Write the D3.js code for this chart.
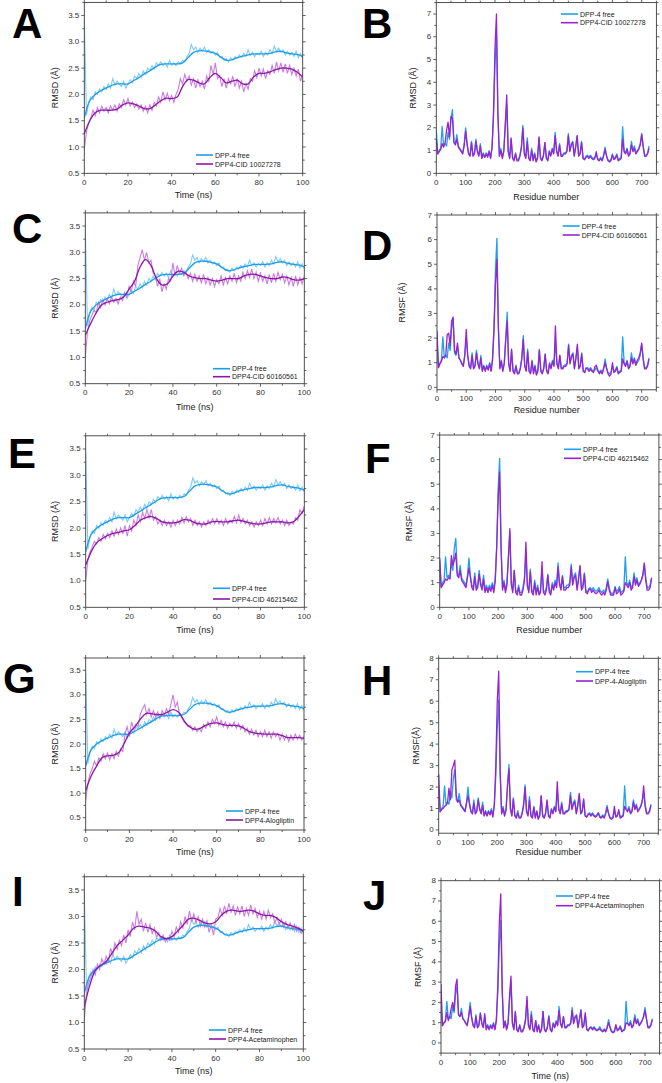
<!DOCTYPE html>
<html>
<head>
<meta charset="utf-8">
<script src="https://cdn.jsdelivr.net/npm/d3@7"></script>
<style>
  body { margin: 0; background: #fff; }
  svg { display: block; font-family: "Liberation Sans", Arial, sans-serif; }
</style>
</head>
<body>
<svg id="fig" width="662" height="1083"></svg>
<script>
// ---- time grids (ns) ----
const rawTimes = [
  0,1,2,3,4,5,6,7,8,9, 10,11,12,13,14,15,16,17,18,19,
  20,21,22,23,24,25,26,27,28,29, 30,31,32,33,34,35,36,37,38,39,
  40,41,42,43,44,45,46,47,48,49, 50,51,52,53,54,55,56,57,58,59,
  60,61,62,63,64,65,66,67,68,69, 70,71,72,73,74,75,76,77,78,79,
  80,81,82,83,84,85,86,87,88,89, 90,91,92,93,94,95,96,97,98,99, 100
];
const smoothTimes = [0,2.5,5,7.5,10,12.5,15,17.5,20,22.5,25,27.5,30,32.5,35,37.5,40,42.5,45,47.5,
  50,52.5,55,57.5,60,62.5,65,67.5,70,72.5,75,77.5,80,82.5,85,87.5,90,92.5,95,97.5,100];

// ---- RMSD, DPP-4 free ----
const freeRmsdRaw = [
  3.45,1.6,1.85,1.95,1.9,2.05,2.0,2.1,2.05,2.15,
  2.1,2.2,2.12,2.3,2.18,2.25,2.2,2.15,2.25,2.12,
  2.2,2.28,2.22,2.35,2.3,2.4,2.32,2.45,2.38,2.5,
  2.45,2.55,2.48,2.6,2.55,2.62,2.55,2.6,2.52,2.65,
  2.55,2.6,2.55,2.62,2.58,2.65,2.62,2.72,2.78,2.95,
  2.85,2.9,2.8,2.88,2.82,2.9,2.8,2.85,2.78,2.82,
  2.75,2.8,2.7,2.72,2.65,2.68,2.62,2.7,2.65,2.72,
  2.68,2.75,2.7,2.78,2.72,2.85,2.75,2.8,2.72,2.78,
  2.75,2.82,2.72,2.8,2.75,2.85,2.78,2.92,2.82,2.88,
  2.8,2.85,2.75,2.82,2.75,2.8,2.72,2.82,2.7,2.78,
  2.68
];
const freeRmsdSmooth = [1.55,1.88,2.0,2.07,2.12,2.17,2.2,2.2,2.2,2.26,2.32,2.39,2.45,2.52,2.57,2.58,2.58,2.58,2.6,2.7,
  2.8,2.83,2.83,2.81,2.78,2.71,2.65,2.66,2.7,2.73,2.75,2.77,2.77,2.77,2.78,2.81,2.82,2.79,2.77,2.76,2.72];

// ---- RMSD, complexes ----
const cid10027278RmsdRaw = [
  0.95,1.3,1.45,1.55,1.7,1.6,1.75,1.65,1.78,1.68,
  1.75,1.65,1.78,1.7,1.8,1.68,1.82,1.75,1.9,1.8,
  1.92,1.78,1.85,1.75,1.82,1.72,1.8,1.68,1.78,1.65,
  1.8,1.7,1.85,1.78,1.95,1.85,2.05,1.9,2.02,1.88,
  1.98,1.85,2.0,2.1,2.3,2.2,2.38,2.25,2.35,2.18,
  2.3,2.12,2.28,2.15,2.25,2.1,2.35,2.25,2.55,2.38,
  2.6,2.3,2.35,2.15,2.3,2.12,2.3,2.2,2.35,2.15,
  2.3,2.12,2.25,2.05,2.2,2.1,2.3,2.25,2.45,2.32,
  2.5,2.35,2.48,2.3,2.45,2.38,2.55,2.4,2.62,2.45,
  2.6,2.42,2.58,2.4,2.55,2.38,2.5,2.35,2.48,2.25,
  2.4
];
const cid10027278RmsdSmooth = [1.25,1.5,1.65,1.7,1.7,1.7,1.72,1.8,1.84,1.82,1.78,1.73,1.73,1.8,1.88,1.93,1.92,1.95,2.15,2.28,
  2.27,2.22,2.2,2.32,2.4,2.32,2.22,2.25,2.27,2.2,2.2,2.33,2.4,2.4,2.43,2.47,2.5,2.5,2.48,2.42,2.33];

const cid60160561RmsdRaw = [
  1.0,1.5,1.7,1.8,1.9,1.85,2.05,1.95,2.1,2.0,
  2.12,2.02,2.15,2.05,2.12,2.02,2.15,2.08,2.22,2.15,
  2.35,2.25,2.45,2.35,2.75,2.9,3.05,2.85,3.0,2.8,
  2.85,2.6,2.55,2.35,2.5,2.25,2.4,2.3,2.5,2.45,
  2.8,2.55,2.75,2.6,2.7,2.55,2.62,2.5,2.6,2.45,
  2.58,2.45,2.55,2.42,2.58,2.4,2.52,2.38,2.5,2.35,
  2.48,2.4,2.55,2.38,2.52,2.4,2.55,2.45,2.6,2.42,
  2.55,2.45,2.62,2.5,2.65,2.52,2.68,2.5,2.62,2.45,
  2.6,2.45,2.55,2.4,2.58,2.42,2.6,2.45,2.62,2.48,
  2.58,2.42,2.55,2.38,2.52,2.35,2.55,2.38,2.52,2.4,
  2.55
];
const cid60160561RmsdSmooth = [1.42,1.65,1.85,2.0,2.05,2.08,2.1,2.15,2.3,2.45,2.72,2.86,2.75,2.5,2.38,2.4,2.55,2.64,2.62,2.55,
  2.52,2.5,2.5,2.47,2.45,2.47,2.5,2.5,2.5,2.55,2.58,2.58,2.55,2.52,2.5,2.5,2.53,2.52,2.48,2.47,2.5];

const cid46215462RmsdRaw = [
  1.0,1.4,1.55,1.65,1.75,1.7,1.82,1.75,1.88,1.8,
  1.9,1.82,1.95,1.85,1.98,1.88,2.0,1.9,2.05,1.85,
  2.05,1.95,2.15,2.05,2.25,2.12,2.3,2.18,2.35,2.2,
  2.35,2.15,2.22,2.08,2.15,2.05,2.15,2.05,2.12,2.02,
  2.15,2.05,2.15,2.08,2.2,2.1,2.22,2.12,2.18,2.05,
  2.15,2.05,2.12,2.02,2.12,2.05,2.15,2.08,2.18,2.08,
  2.18,2.08,2.15,2.05,2.18,2.08,2.15,2.1,2.22,2.1,
  2.25,2.1,2.18,2.08,2.15,2.05,2.12,2.02,2.12,2.05,
  2.15,2.05,2.18,2.08,2.2,2.08,2.18,2.1,2.2,2.08,
  2.15,2.05,2.15,2.05,2.12,2.08,2.2,2.15,2.35,2.28,
  2.42
];
const cid46215462RmsdSmooth = [1.3,1.55,1.72,1.8,1.86,1.9,1.92,1.95,1.97,2.05,2.15,2.2,2.22,2.18,2.12,2.1,2.1,2.12,2.16,2.15,
  2.1,2.08,2.08,2.12,2.13,2.12,2.12,2.14,2.15,2.13,2.1,2.08,2.08,2.1,2.12,2.12,2.12,2.1,2.12,2.22,2.35];

const alogliptinRmsdRaw = [
  0.85,1.2,1.4,1.5,1.65,1.55,1.72,1.65,1.8,1.7,
  1.82,1.68,1.8,1.7,1.85,1.75,1.9,1.85,2.2,2.35,
  2.15,2.45,2.3,2.4,2.35,2.6,2.72,2.8,2.6,2.72,
  2.55,2.68,2.55,2.65,2.52,2.68,2.58,2.72,2.6,2.8,
  3.0,2.75,2.85,2.6,2.55,2.45,2.4,2.35,2.38,2.28,
  2.35,2.25,2.32,2.25,2.4,2.32,2.45,2.35,2.5,2.42,
  2.55,2.38,2.48,2.35,2.45,2.32,2.42,2.35,2.45,2.32,
  2.42,2.3,2.38,2.25,2.32,2.2,2.3,2.18,2.28,2.15,
  2.25,2.15,2.28,2.15,2.25,2.12,2.25,2.15,2.22,2.08,
  2.2,2.08,2.18,2.05,2.18,2.08,2.2,2.1,2.18,2.08,
  2.15
];
const alogliptinRmsdSmooth = [1.05,1.35,1.55,1.72,1.76,1.77,1.82,2.0,2.22,2.35,2.5,2.62,2.62,2.6,2.6,2.65,2.7,2.65,2.48,2.35,
  2.3,2.32,2.38,2.42,2.43,2.4,2.38,2.38,2.37,2.32,2.25,2.22,2.21,2.2,2.2,2.2,2.17,2.13,2.13,2.13,2.12];

const acetaminophenRmsdRaw = [
  1.05,1.55,1.75,1.85,2.0,1.9,2.1,2.0,2.2,2.1,
  2.25,2.15,2.4,2.28,2.5,2.38,2.55,2.45,2.65,2.5,
  2.75,2.62,2.9,2.75,3.1,2.85,2.95,2.72,2.88,2.7,
  2.85,2.68,2.78,2.6,2.7,2.55,2.65,2.52,2.6,2.55,
  2.72,2.62,2.8,2.7,2.9,2.78,3.0,2.85,3.1,2.9,
  3.05,2.88,3.0,2.82,2.95,2.8,2.92,2.7,2.85,2.65,
  2.95,2.98,3.15,3.02,3.2,3.05,3.25,3.08,3.2,3.02,
  3.18,3.05,3.2,3.0,3.15,3.02,3.22,3.05,3.15,2.98,
  3.1,2.95,3.1,2.95,3.12,2.98,3.05,2.88,2.98,2.85,
  2.95,2.8,2.9,2.78,2.88,2.75,2.85,2.72,2.8,2.68,
  2.75
];
const acetaminophenRmsdSmooth = [1.3,1.7,1.98,2.08,2.15,2.3,2.45,2.55,2.65,2.78,2.82,2.8,2.78,2.72,2.62,2.58,2.62,2.72,2.83,2.95,
  2.97,2.93,2.88,2.86,2.9,3.02,3.1,3.12,3.1,3.1,3.12,3.1,3.05,3.02,3.02,2.98,2.9,2.85,2.82,2.78,2.73];

// ---- RMSF per residue ----
const residues = [
  0,5,10,15,20,25,30,35,40,45, 50,55,60,65,70,75,80,85,90,95,
  100,105,110,115,120,125,130,135,140,145, 150,155,160,165,170,175,180,185,190,195,
  200,205,210,215,220,225,230,235,240,245, 250,255,260,265,270,275,280,285,290,295,
  300,305,310,315,320,325,330,335,340,345, 350,355,360,365,370,375,380,385,390,395,
  400,405,410,415,420,425,430,435,440,445, 450,455,460,465,470,475,480,485,490,495,
  500,505,510,515,520,525,530,535,540,545, 550,555,560,565,570,575,580,585,590,595,
  600,605,610,615,620,625,630,635,640,645, 650,655,660,665,670,675,680,685,690,695,
  700,705,710,715,720,725
];
const freeRmsf = [
  1.9,0.85,1.0,1.1,2.05,1.2,1.3,1.2,1.8,1.5,
  2.4,2.8,1.4,1.3,1.7,1.2,1.1,1.0,0.9,1.3,
  2.0,1.3,0.9,0.8,1.4,0.8,0.9,1.5,1.0,0.8,
  1.3,0.7,0.9,0.7,0.9,0.75,1.0,0.7,1.2,2.5,
  4.8,6.05,2.5,0.8,1.1,0.7,1.0,2.0,3.05,1.0,
  0.7,1.5,0.7,0.6,0.9,0.6,0.6,0.8,1.2,2.1,
  0.9,0.7,1.55,0.7,0.6,1.1,0.6,0.9,0.55,0.7,
  1.55,0.7,0.6,0.8,1.35,0.7,0.6,1.0,0.8,1.1,
  0.9,1.8,1.0,0.8,1.3,0.8,0.8,0.9,0.9,1.0,
  1.75,1.0,1.3,1.4,0.8,1.2,1.65,0.8,0.9,1.4,
  0.7,0.6,0.75,0.8,0.7,0.8,0.7,0.65,0.7,0.8,
  0.65,0.6,0.7,0.6,0.8,1.15,0.8,0.6,0.55,0.6,
  0.85,0.65,0.7,0.85,0.6,0.65,0.7,2.05,1.0,0.9,
  1.1,0.8,0.9,1.4,1.0,1.2,0.9,1.0,1.1,1.3,
  1.75,1.2,0.8,0.8,0.9,1.2
];
const cid10027278Rmsf = [
  1.5,0.85,0.95,1.05,1.3,1.15,1.35,1.9,2.25,1.6,
  2.5,2.4,1.35,1.25,1.5,1.15,1.05,0.95,0.85,1.2,
  1.85,1.25,0.85,0.75,1.35,0.75,0.85,1.4,0.95,0.75,
  1.2,0.65,0.85,0.7,0.85,0.7,0.95,0.65,1.1,2.7,
  5.5,7.0,2.6,0.75,1.0,0.65,0.95,2.2,3.45,0.95,
  0.65,1.55,0.65,0.55,0.85,0.55,0.55,0.75,1.1,2.0,
  0.85,0.65,1.4,0.65,0.55,1.0,0.55,0.85,0.5,0.65,
  1.6,0.65,0.55,0.75,1.35,0.65,0.55,0.95,0.75,1.05,
  0.85,1.65,0.95,0.75,1.25,0.75,0.75,0.85,0.85,0.95,
  1.65,0.95,1.25,1.35,0.75,1.15,1.65,0.75,0.85,1.35,
  0.65,0.6,0.7,0.75,0.65,0.75,0.65,0.6,0.65,0.95,
  0.6,0.55,0.65,0.55,0.75,1.05,0.75,0.55,0.5,0.55,
  0.8,0.6,0.65,0.8,0.55,0.6,0.65,1.5,0.95,0.85,
  1.05,0.75,0.85,1.25,0.95,1.1,0.85,0.95,1.05,1.25,
  1.7,1.15,0.75,0.75,0.85,1.1
];
const cid60160561Rmsf = [
  2.3,0.8,0.95,1.05,1.25,1.2,1.3,2.15,2.2,1.7,
  2.7,2.85,1.5,1.35,1.8,1.2,1.1,0.95,0.85,1.3,
  2.35,1.3,0.85,0.75,1.3,0.75,0.85,1.4,0.95,0.75,
  1.2,0.65,0.85,0.65,0.85,0.7,0.95,0.65,1.1,2.3,
  4.2,5.2,2.3,0.75,1.05,0.65,0.95,1.9,2.7,0.95,
  0.65,1.55,0.65,0.55,0.85,0.55,0.55,0.75,1.15,1.95,
  0.85,0.65,1.45,0.65,0.55,1.05,0.55,0.85,0.5,0.65,
  1.5,0.65,0.55,0.75,1.35,0.65,0.55,0.95,0.75,1.05,
  0.85,2.5,0.95,0.75,1.3,0.75,0.75,0.85,0.85,0.95,
  1.7,0.95,1.25,1.35,0.75,1.15,1.75,0.75,0.85,1.35,
  0.65,0.6,0.8,0.75,0.65,0.75,0.65,0.6,0.85,0.9,
  0.7,0.55,0.65,0.55,0.75,1.0,0.75,0.55,0.45,0.55,
  1.0,0.6,0.65,0.8,0.55,0.6,0.65,1.15,0.95,0.85,
  1.05,0.75,0.85,1.2,0.95,1.15,0.9,1.1,1.2,1.4,
  1.8,1.15,0.75,0.75,0.85,1.15
];
const cid46215462Rmsf = [
  2.0,0.8,0.9,1.0,1.15,1.1,1.2,1.15,2.1,1.7,
  1.9,2.2,1.3,1.2,1.5,1.1,1.0,0.9,0.8,1.2,
  1.6,1.2,0.8,0.7,1.25,0.7,0.8,1.35,0.9,0.7,
  1.15,0.6,0.8,0.6,0.8,0.65,0.9,0.6,1.05,2.4,
  4.4,5.5,2.3,0.7,1.0,0.6,0.9,2.0,3.2,0.9,
  0.6,1.5,0.6,0.5,0.8,0.5,0.5,0.7,1.1,2.65,
  0.85,0.6,1.45,0.6,0.5,1.0,0.5,0.8,0.5,0.6,
  1.85,0.6,0.5,0.7,1.3,0.6,0.5,0.9,0.7,1.0,
  0.8,1.65,0.9,0.7,1.25,0.7,0.7,0.8,0.8,0.9,
  1.65,0.9,1.2,1.3,0.7,1.1,1.7,0.7,0.8,1.35,
  0.6,0.55,0.7,0.75,0.6,0.7,0.6,0.55,0.6,0.7,
  0.55,0.5,0.6,0.5,0.7,1.05,0.7,0.5,0.5,0.5,
  0.8,0.55,0.6,0.75,0.5,0.55,0.65,1.0,0.9,0.8,
  1.0,0.7,0.8,1.25,0.9,1.1,0.85,0.95,1.1,1.3,
  1.8,1.1,0.7,0.7,0.8,1.2
];
const alogliptinRmsf = [
  2.6,0.85,0.95,1.0,1.1,1.15,1.25,1.95,1.4,2.8,
  3.0,3.25,1.6,1.3,1.4,1.15,1.05,0.95,0.85,1.25,
  1.6,1.2,0.85,0.75,1.25,0.75,0.85,1.4,0.95,0.75,
  1.15,0.65,0.85,0.65,0.85,0.7,0.9,0.6,1.15,3.0,
  6.0,7.4,2.8,0.75,1.0,0.65,0.9,2.1,2.85,0.95,
  0.65,1.45,0.65,0.55,0.8,0.55,0.55,0.75,1.15,2.0,
  0.85,0.65,1.4,0.65,0.55,1.05,0.55,0.85,0.5,0.65,
  1.6,0.65,0.55,0.75,1.4,0.65,0.55,0.95,0.75,1.05,
  0.85,2.25,0.95,0.75,1.2,0.75,0.75,0.85,0.85,0.95,
  1.6,0.95,1.2,1.3,0.75,1.1,1.7,0.75,0.85,1.45,
  0.65,0.6,0.7,0.75,0.65,0.75,0.65,0.6,0.65,0.8,
  0.6,0.55,0.65,0.55,0.75,1.05,0.75,0.55,0.5,0.55,
  1.1,0.6,0.65,0.95,0.55,0.6,0.65,1.1,0.95,0.85,
  1.0,0.75,0.85,1.3,0.95,1.15,0.85,0.95,1.1,1.35,
  2.05,1.1,0.75,0.75,0.85,1.15
];
const acetaminophenRmsf = [
  2.9,0.85,1.0,1.05,1.5,1.1,1.3,1.7,2.0,1.6,
  2.8,3.15,1.4,1.3,1.5,1.2,1.1,0.95,0.85,1.3,
  1.8,1.25,0.85,0.75,1.3,0.75,0.85,1.45,0.95,0.75,
  1.45,0.65,0.85,0.65,0.85,0.7,0.95,0.65,1.1,2.9,
  5.9,7.35,2.7,0.75,1.05,0.65,0.95,2.3,3.3,0.95,
  0.65,1.55,0.65,0.55,0.85,0.55,0.55,0.75,1.1,2.3,
  0.85,0.65,1.4,0.65,0.55,1.1,0.55,0.85,0.5,0.65,
  1.55,0.65,0.55,0.75,1.3,0.65,0.55,0.95,0.75,1.05,
  0.85,1.6,0.95,0.75,1.3,0.75,0.75,0.85,0.85,0.95,
  1.6,0.95,1.25,1.35,0.75,1.15,1.6,0.75,0.85,1.5,
  0.65,0.6,0.75,0.75,0.65,0.75,0.65,0.6,0.65,0.7,
  0.6,0.55,0.65,0.55,0.75,1.0,0.75,0.55,0.5,0.55,
  0.9,0.6,0.65,0.8,0.55,0.6,0.65,1.0,0.95,0.85,
  1.0,0.75,0.85,1.25,0.95,1.1,0.85,0.95,1.1,1.3,
  1.6,1.15,0.75,0.75,0.85,1.15
];

// ---- tick labels ----
const timeTicks = [0, 20, 40, 60, 80, 100];
const rmsdTicks = [0.5, 1.0, 1.5, 2.0, 2.5, 3.0, 3.5];
const residueTicks = [0, 100, 200, 300, 400, 500, 600, 700];
const rmsf7Ticks = [0, 1, 2, 3, 4, 5, 6, 7];
const rmsf8Ticks = [0, 1, 2, 3, 4, 5, 6, 7, 8];

const COL = {
  freeRaw: '#7FCCF4', free: '#1C9DE8',
  ligRaw: '#CB7CDF', lig: '#8C17A8',
  fluFree: '#1FA0EC', fluLig: '#9A22D2',
  axis: '#3c3c3c', text: '#333'
};

const svg = d3.select('#fig');
svg.append('rect').attr('width', 662).attr('height', 1083).attr('fill', '#fff');

let clipId = 0;

// Origin-style box: ticks point outward on all four sides, labels left/bottom only
function drawFrame(x, y, xTicks, yTicks, yFmt) {
  const [x0, x1] = x.range();
  const [yb, yt] = y.range();
  const g = svg.append('g');
  const xs = xTicks[1] - xTicks[0], ys = yTicks[1] - yTicks[0];
  const inX = v => v >= x.domain()[0] - 1e-9 && v <= x.domain()[1] + 1e-9;
  const inY = v => v >= y.domain()[0] - 1e-9 && v <= y.domain()[1] + 1e-9;
  const xMinor = xTicks.map(v => v + xs / 2).filter(inX);
  const yMinor = [yTicks[0] - ys / 2].concat(yTicks.map(v => v + ys / 2)).filter(inY);

  const tick = (x1_, y1_, x2_, y2_) => g.append('line')
    .attr('x1', x1_).attr('y1', y1_).attr('x2', x2_).attr('y2', y2_)
    .attr('stroke', COL.axis).attr('stroke-width', 0.8);

  xTicks.forEach(v => {
    const px = x(v);
    tick(px, yb, px, yb + 3);
    tick(px, yt, px, yt - 3);
    g.append('text').attr('x', px).attr('y', yb + 9)
      .attr('text-anchor', 'middle').attr('dominant-baseline', 'central')
      .attr('fill', COL.text).style('font-size', '8px').text(v);
  });
  xMinor.forEach(v => {
    const px = x(v);
    tick(px, yb, px, yb + 2);
    tick(px, yt, px, yt - 2);
  });
  yTicks.forEach(v => {
    const py = y(v);
    tick(x0 - 3, py, x0, py);
    tick(x1, py, x1 + 3, py);
    g.append('text').attr('x', x0 - 5).attr('y', py)
      .attr('text-anchor', 'end').attr('dominant-baseline', 'central')
      .attr('fill', COL.text).style('font-size', '8px').text(yFmt(v));
  });
  yMinor.forEach(v => {
    const py = y(v);
    tick(x0 - 2, py, x0, py);
    tick(x1, py, x1 + 2, py);
  });
  g.append('rect').attr('x', x0).attr('y', yt).attr('width', x1 - x0).attr('height', yb - yt)
    .attr('fill', 'none').attr('stroke', COL.axis).attr('stroke-width', 0.9);
}

function addClip(x, y) {
  const id = 'clip' + (clipId++);
  svg.append('clipPath').attr('id', id).append('rect')
    .attr('x', x.range()[0]).attr('y', y.range()[1])
    .attr('width', x.range()[1] - x.range()[0]).attr('height', y.range()[0] - y.range()[1]);
  return svg.append('g').attr('clip-path', `url(#${id})`);
}

function drawLabels(p, x, y, yTitle, xTitle, ylx) {
  const [x0, x1] = x.range();
  const [yb, yt] = y.range();
  svg.append('text').attr('x', p.letter[1]).attr('y', p.letter[2])
    .attr('fill', '#000').style('font-size', '42px').style('font-weight', 'bold')
    .text(p.letter[0]);
  svg.append('text')
    .attr('transform', `translate(${ylx},${(yb + yt) / 2}) rotate(-90)`)
    .attr('text-anchor', 'middle').attr('dominant-baseline', 'central')
    .attr('fill', '#222').style('font-size', '9px').text(yTitle);
  svg.append('text').attr('x', (x0 + x1) / 2).attr('y', p.xlabY)
    .attr('text-anchor', 'middle').attr('dominant-baseline', 'central')
    .attr('fill', '#222').style('font-size', '9px').text(xTitle);
}

function drawLegend(p, names, colors) {
  const [lx, ly, dy] = p.leg;
  names.forEach((n, i) => {
    svg.append('line').attr('x1', lx).attr('x2', lx + 17)
      .attr('y1', ly + i * dy).attr('y2', ly + i * dy)
      .attr('stroke', colors[i]).attr('stroke-width', 1.6);
    svg.append('text').attr('x', lx + 19).attr('y', ly + i * dy)
      .attr('dominant-baseline', 'central').attr('fill', '#222')
      .style('font-size', '7px').text(n);
  });
}

// ---- RMSD panels (left column) ----
const rmsdPanels = [
  { letter: ['A', 12, 38], xr: [84.3, 302.7], yr: [173.3, 2.4], yd: [0.5, 3.75],
    raw: cid10027278RmsdRaw, smooth: cid10027278RmsdSmooth, name: 'DPP4-CID 10027278', leg: [196, 155, 9], xlabY: 195 },
  { letter: ['C', 12, 243], xr: [85.3, 304.3], yr: [383.7, 212.9], yd: [0.5, 3.75],
    raw: cid60160561RmsdRaw, smooth: cid60160561RmsdSmooth, name: 'DPP4-CID 60160561', leg: [213, 368.7, 8], xlabY: 406.7 },
  { letter: ['E', 8, 468], xr: [85.7, 304.3], yr: [607.3, 435.8], yd: [0.5, 3.75],
    raw: cid46215462RmsdRaw, smooth: cid46215462RmsdSmooth, name: 'DPP4-CID 46215462', leg: [213, 588.3, 10.7], xlabY: 630 },
  { letter: ['G', 3, 693], xr: [85.7, 304], yr: [830, 658], yd: [0.25, 3.75],
    raw: alogliptinRmsdRaw, smooth: alogliptinRmsdSmooth, name: 'DPP4-Alogliptin', leg: [226, 811, 9], xlabY: 851.7 },
  { letter: ['I', 12, 906], xr: [84.3, 303.3], yr: [1049, 876.75], yd: [0.5, 3.75],
    raw: acetaminophenRmsdRaw, smooth: acetaminophenRmsdSmooth, name: 'DPP4-Acetaminophen', leg: [209, 1030, 9], xlabY: 1070.7 }
];

rmsdPanels.forEach(p => {
  const x = d3.scaleLinear().domain([0, 100]).range(p.xr);
  const y = d3.scaleLinear().domain(p.yd).range(p.yr);
  const g = addClip(x, y);
  const rawLine = d3.line().x((d, i) => x(rawTimes[i])).y(d => y(d));
  const smLine = d3.line().x((d, i) => x(smoothTimes[i])).y(d => y(d)).curve(d3.curveCatmullRom.alpha(0.5));
  g.append('path').datum(freeRmsdRaw).attr('d', rawLine)
    .attr('fill', 'none').attr('stroke', COL.freeRaw).attr('stroke-width', 1.1);
  g.append('path').datum(p.raw).attr('d', rawLine)
    .attr('fill', 'none').attr('stroke', COL.ligRaw).attr('stroke-width', 1.1);
  g.append('path').datum(freeRmsdSmooth).attr('d', smLine)
    .attr('fill', 'none').attr('stroke', COL.free).attr('stroke-width', 1.3);
  g.append('path').datum(p.smooth).attr('d', smLine)
    .attr('fill', 'none').attr('stroke', COL.lig).attr('stroke-width', 1.3);
  drawFrame(x, y, timeTicks, rmsdTicks, d3.format('.1f'));
  drawLabels(p, x, y, 'RMSD (Å)', 'Time (ns)', 55);
  drawLegend(p, ['DPP-4 free', p.name], [COL.free, COL.lig]);
});

// ---- RMSF panels (right column) ----
const rmsfPanels = [
  { letter: ['B', 362, 38], xr: [436.3, 656.4], yr: [173.3, 2.6], yd: [0, 7.5], ticks: rmsf7Ticks,
    data: cid10027278Rmsf, names: ['DPP-4 free', 'DPP4-CID 10027278'], leg: [561, 14, 8.7],
    ylab: 'RMSD (Å)', ylx: 412.7, xlab: 'Residue number', xlabY: 196.7 },
  { letter: ['D', 362, 260], xr: [437, 656.3], yr: [389.8, 215], yd: [-0.1, 7], ticks: rmsf7Ticks,
    data: cid60160561Rmsf, names: ['DPP-4 free', 'DPP4-CID 60160561'], leg: [562.7, 226, 9],
    ylab: 'RMSF (Å)', ylx: 401.7, xlab: 'Residue number', xlabY: 410 },
  { letter: ['F', 365, 473], xr: [439.7, 658.9], yr: [607.3, 435], yd: [0, 7], ticks: rmsf7Ticks,
    data: cid46215462Rmsf, names: ['DPP-4 free', 'DPP4-CID 46215462'], leg: [564, 449.3, 9],
    ylab: 'RMSF (Å)', ylx: 409, xlab: 'Residue number', xlabY: 630 },
  { letter: ['H', 362, 695], xr: [438.7, 658.3], yr: [833.2, 658.3], yd: [-0.15, 8], ticks: rmsf8Ticks,
    data: alogliptinRmsf, names: ['DPP-4 free', 'DPP-4-Alogliptin'], leg: [576, 671.7, 9.3],
    ylab: 'RMSF(Å)', ylx: 416, xlab: 'Residue number', xlabY: 851.7 },
  { letter: ['J', 363, 910], xr: [441, 659.6], yr: [1053.1, 880.7], yd: [-0.5, 8], ticks: rmsf8Ticks,
    data: acetaminophenRmsf, names: ['DPP-4 free', 'DPP4-Acetaminophen'], leg: [556, 896, 9.7],
    ylab: 'RMSF (Å)', ylx: 418, xlab: 'Time (ns)', xlabY: 1076 }
];

rmsfPanels.forEach(p => {
  const x = d3.scaleLinear().domain([0, 750]).range(p.xr);
  const y = d3.scaleLinear().domain(p.yd).range(p.yr);
  const g = addClip(x, y);
  const line = d3.line().x((d, i) => x(residues[i])).y(d => y(d));
  g.append('path').datum(freeRmsf).attr('d', line)
    .attr('fill', 'none').attr('stroke', COL.fluFree).attr('stroke-width', 1.3).attr('stroke-linejoin', 'round');
  g.append('path').datum(p.data).attr('d', line)
    .attr('fill', 'none').attr('stroke', COL.fluLig).attr('stroke-width', 1.3).attr('stroke-linejoin', 'round');
  drawFrame(x, y, residueTicks, p.ticks, d3.format('d'));
  drawLabels(p, x, y, p.ylab, p.xlab, p.ylx);
  drawLegend(p, p.names, [COL.fluFree, COL.fluLig]);
});
</script>
</body>
</html>
